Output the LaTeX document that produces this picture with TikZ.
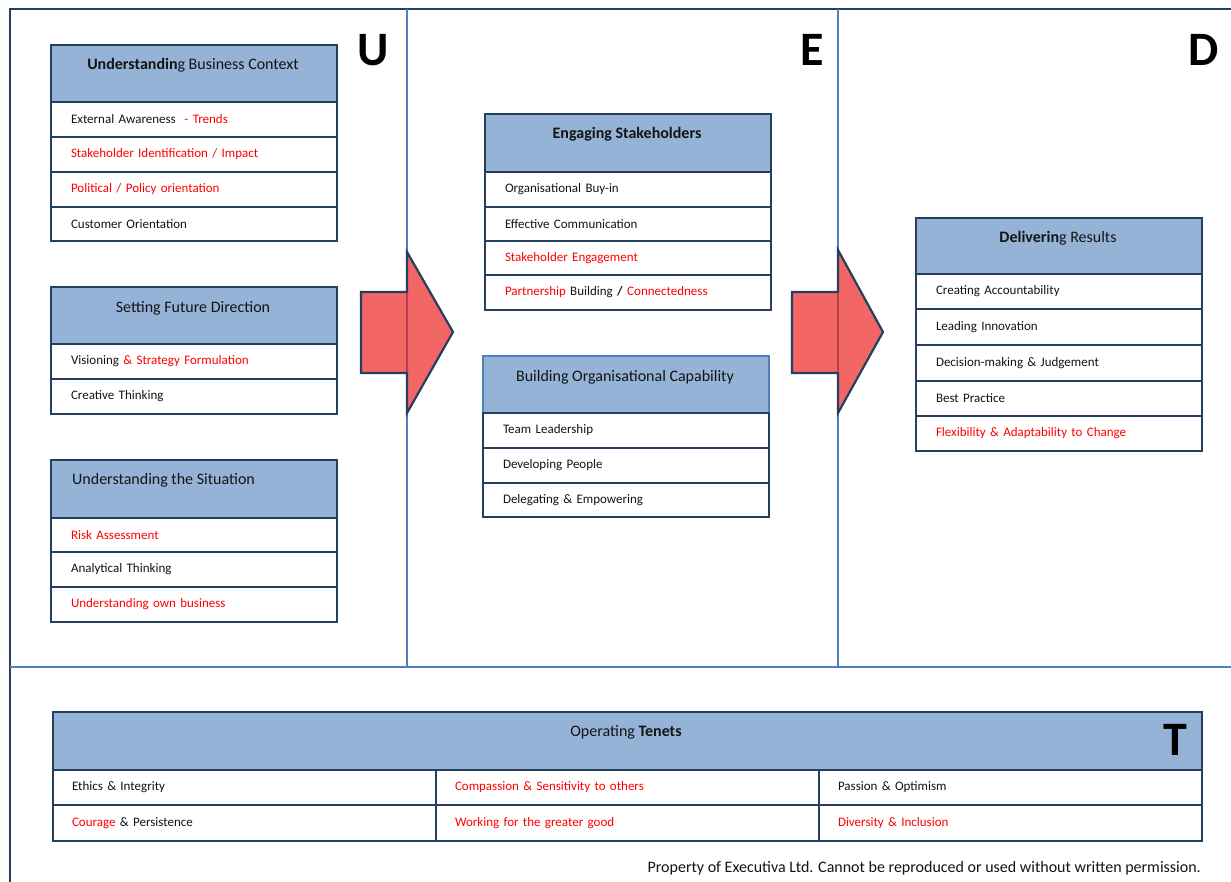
\documentclass[tikz,border=0pt]{standalone}
\usepackage{fontspec}
\setmainfont{Carlito}
\definecolor{navy}{RGB}{36,63,96}
\definecolor{hdrblue}{RGB}{149,179,215}
\definecolor{divblue}{RGB}{79,129,189}
\definecolor{arrowred}{RGB}{242,102,102}
\definecolor{darkred}{RGB}{190,60,80}
\definecolor{txt}{RGB}{20,20,20}
\newcommand\cellfont{\fontsize{13pt}{15pt}\selectfont}
\newcommand\hdrfont{\fontsize{16pt}{18pt}\selectfont}
\newcommand\redtx[1]{\textcolor{red}{#1}}
\tikzset{
  hdr/.style={draw=navy, line width=2.2pt, fill=hdrblue, anchor=north west,
    minimum width=286pt, minimum height=#1, inner sep=0pt},
  hdr/.default=57pt,
  rowc/.style={draw=navy, line width=2pt, fill=white, anchor=north west,
    minimum width=286pt, minimum height=35pt, inner xsep=20pt, inner ysep=0pt,
    text width=246pt, align=left, font=\cellfont, text=txt},
  tcell/.style={draw=navy, line width=2pt, fill=white, anchor=north west,
    minimum width=383pt, minimum height=#1, inner xsep=19pt, inner ysep=0pt,
    text width=345pt, align=left, font=\cellfont, text=txt},
  tcell/.default=35pt,
  htext/.style={font=\hdrfont, text=txt, inner sep=0pt},
  bigletter/.style={anchor=base, font=\fontsize{48pt}{48pt}\selectfont\bfseries, text=black, inner sep=0pt},
  frameline/.style={draw=navy, line width=2.5pt},
  divline/.style={draw=divblue, line width=2pt},
  bigarrow/.style={fill=arrowred, draw=navy, line width=2.2pt, line join=miter},
}
\begin{document}
\begin{tikzpicture}[x=1pt,y=-1pt]
\useasboundingbox (0,0) rectangle (1231,881);
\clip (0,0) rectangle (1231,881);
\fill[white] (0,0) rectangle (1231,881);

% frame and dividers
\coordinate (fbl) at (10,900);
\coordinate (ftl) at (10,9);
\coordinate (ftr) at (1250,9);
\draw[frameline] (fbl) -- (ftl) -- (ftr);
\coordinate (d1t) at (407,9);
\coordinate (d1b) at (407,667);
\coordinate (d2t) at (838,9);
\coordinate (d2b) at (838,667);
\coordinate (hl) at (10,667);
\coordinate (hr) at (1250,667);
\draw[divline] (d1t) -- (d1b);
\draw[divline] (d2t) -- (d2b);
\draw[divline] (hl) -- (hr);

% arrows
\draw[bigarrow] (361,292) -- (407,292) -- (407,252) -- (453,332) -- (407,413) -- (407,373) -- (361,373) -- cycle;
\draw[darkred, line width=1.5pt] (407,293) -- (407,372);
\draw[bigarrow] (792,292) -- (838,292) -- (838,250) -- (883,332) -- (838,413) -- (838,373) -- (792,373) -- cycle;
\draw[darkred, line width=1.5pt] (838,293) -- (838,372);

% letters
\node[bigletter] (lu) at (373,65) {U};
\node[bigletter] (le) at (812,65) {E};
\node[bigletter] (ld) at (1204,65) {D};

% Box 1
\node[hdr=57pt] (b1h) at (50,44) {};
\node[htext] (b1t) at (193,65) {\textbf{Understandin}g Business Context};
\node[rowc] (b1r1) at (50,101) {External Awareness\ \ \redtx{- Trends}};
\node[rowc] (b1r2) at (50,136) {\redtx{Stakeholder Identification / Impact}};
\node[rowc] (b1r3) at (50,171) {\redtx{Political / Policy orientation}};
\node[rowc, minimum height=34pt] (b1r4) at (50,206) {Customer Orientation};

% Box 2
\node[hdr=57pt] (b2h) at (50,286) {};
\node[htext] (b2t) at (193,308) {Setting Future Direction};
\node[rowc] (b2r1) at (50,343) {Visioning \redtx{\& Strategy Formulation}};
\node[rowc] (b2r2) at (50,378) {Creative Thinking};

% Box 3
\node[hdr=58pt] (b3h) at (50,459) {};
\node[htext, anchor=west] (b3t) at (72,480) {Understanding the Situation};
\node[rowc, minimum height=34pt] (b3r1) at (50,517) {\redtx{Risk Assessment}};
\node[rowc] (b3r2) at (50,551) {Analytical Thinking};
\node[rowc] (b3r3) at (50,586) {\redtx{Understanding own business}};

% Box 4
\node[hdr=58pt] (b4h) at (484,113) {};
\node[htext] (b4t) at (627,134) {\textbf{Engaging Stakeholders}};
\node[rowc] (b4r1) at (484,171) {Organisational Buy-in};
\node[rowc, minimum height=34pt] (b4r2) at (484,206) {Effective Communication};
\node[rowc, minimum height=34pt] (b4r3) at (484,240) {\redtx{Stakeholder Engagement}};
\node[rowc] (b4r4) at (484,274) {\redtx{Partnership} Building \textbf{/} \redtx{Connectedness}};

% Box 5
\node[hdr=57pt, draw=divblue] (b5h) at (482,355) {};
\node[htext] (b5t) at (625,377) {Building Organisational Capability};
\node[rowc] (b5r1) at (482,412) {Team Leadership};
\node[rowc] (b5r2) at (482,447) {Developing People};
\node[rowc, minimum height=34pt] (b5r3) at (482,482) {Delegating \& Empowering};

% Box 6
\node[hdr=56pt] (b6h) at (915,217) {};
\node[htext] (b6t) at (1058,238) {\textbf{Deliverin}g Results};
\node[rowc] (b6r1) at (915,273) {Creating Accountability};
\node[rowc, minimum height=36pt] (b6r2) at (915,308) {Leading Innovation};
\node[rowc, minimum height=36pt] (b6r3) at (915,344) {Decision-making \& Judgement};
\node[rowc] (b6r4) at (915,380) {Best Practice};
\node[rowc] (b6r5) at (915,415) {\redtx{Flexibility \& Adaptability to Change}};

% Operating Tenets
\node[hdr=58pt, minimum width=1149pt] (th) at (52,711) {};
\node[htext] (tt) at (626,732) {Operating \textbf{Tenets}};
\node[bigletter] (lt) at (1175,755) {T};
\node[tcell] (c11) at (52,769) {Ethics \& Integrity};
\node[tcell] (c12) at (435,769) {\redtx{Compassion \& Sensitivity to others}};
\node[tcell] (c13) at (818,769) {Passion \& Optimism};
\node[tcell=36pt] (c21) at (52,804) {\redtx{Courage} \& Persistence};
\node[tcell=36pt] (c22) at (435,804) {\redtx{Working for the greater good}};
\node[tcell=36pt] (c23) at (818,804) {\redtx{Diversity \& Inclusion}};

% footer
\node[anchor=east, font=\fontsize{16pt}{18pt}\selectfont, text=txt, inner sep=0pt] (foot) at (1201,868) {Property of Executiva Ltd. Cannot be reproduced or used without written permission.};
\end{tikzpicture}
\end{document}
